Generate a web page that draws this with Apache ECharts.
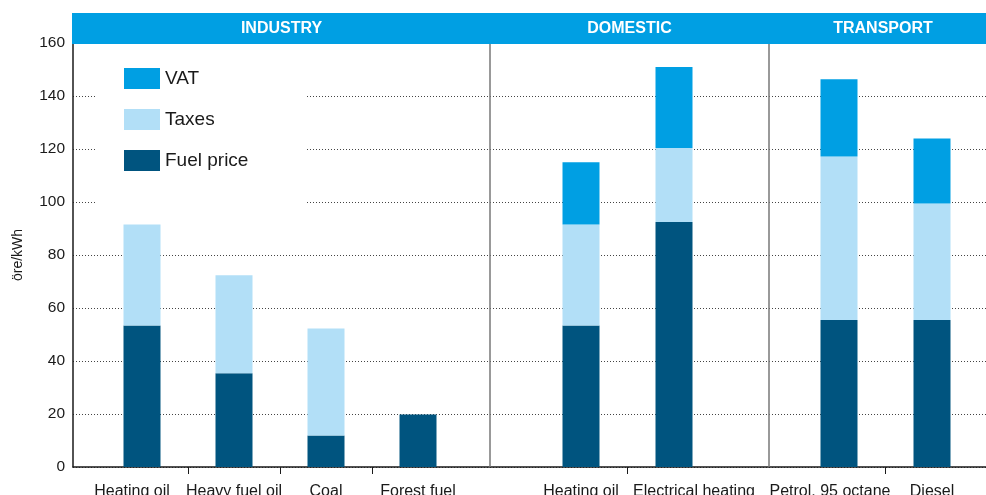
<html>
  <head>
    <meta charset="utf-8" />
    <script src="https://cdn.jsdelivr.net/npm/echarts@6.0.0/dist/echarts.min.js"></script>
    <style>
      body {
        margin: 0;
        background: #fff;
      }

      #main {
        width: 986px;
        height: 495px;
      }
    </style>
  </head>
  <body>
    <div id="main"></div>
    <script>
      const groups = ['INDUSTRY', 'DOMESTIC', 'TRANSPORT'];
      const categories = [
        ['Heating oil', 'Heavy fuel oil', 'Coal', 'Forest fuel'],
        ['Heating oil', 'Electrical heating'],
        ['Petrol, 95 octane', 'Diesel'],
      ];
      const fuelPrice = [[53.4, 35.4, 11.9, 19.8], [53.4, 92.5], [55.5, 55.5]];
      const taxes = [[38.1, 37.0, 40.4, 0], [38.1, 27.9], [61.7, 43.9]];
      const vat = [[0, 0, 0, 0], [23.5, 30.5], [29.1, 24.6]];
      const yTicks = [0, 20, 40, 60, 80, 100, 120, 140, 160];

      const colors = { vat: '#009fe3', taxes: '#b2dff7', fuel: '#00547f' };
      const font = 'Liberation Sans, Arial, sans-serif';

      // pixel layout of each group's bar area (left edge, width)
      const groupBoxes = [
        [119, 322],
        [557.75, 139.5],
        [815.75, 139.5],
      ];
      // the source nudges a few labels sideways (group index, label)
      const labelPadding = {
        '0:Heating oil': [0, 20, 0, 0],
        '1:Electrical heating': [0, 0, 0, 40],
        '2:Petrol, 95 octane': [0, 18, 0, 0],
      };

      // put an empty slot between two categories, the tick goes there
      function spread(arr, blank) {
        return arr.flatMap((v, i) => (i ? [blank, v] : [v]));
      }

      var myChart = echarts.init(document.querySelector('#main'));

      const grid = [{ left: 73, right: 0, top: 43, bottom: 28, outerBoundsMode: 'none' }];
      const xAxis = [
        {
          type: 'value',
          gridIndex: 0,
          min: 0,
          max: 1,
          axisLine: { show: true, lineStyle: { color: '#1a1a1a', width: 1.5 } },
          axisTick: { show: false },
          axisLabel: { show: false },
          splitLine: { show: false },
        },
      ];
      const yAxis = [
        {
          type: 'value',
          gridIndex: 0,
          min: 0,
          max: 160,
          interval: 20,
          name: 'öre/kWh',
          nameLocation: 'middle',
          nameGap: 48,
          nameTextStyle: { fontFamily: font, fontSize: 14, color: '#1a1a1a' },
          axisLine: { show: true, lineStyle: { color: '#1a1a1a', width: 1.5 } },
          axisTick: { show: false },
          axisLabel: {
            margin: 8,
            fontFamily: font,
            fontSize: 15.5,
            color: '#1a1a1a',
            formatter: (v) => (yTicks.includes(v) ? String(v) : ''),
          },
          splitLine: {
            show: true,
            lineStyle: { color: '#444', type: [1, 2], width: 1 },
          },
        },
      ];
      const series = [];

      groups.forEach((g, gi) => {
        const [left, width] = groupBoxes[gi];
        grid.push({ left: left, width: width, top: 43, bottom: 28, outerBoundsMode: 'none' });
        const cats = spread(categories[gi], '').map((c) => {
          const pad = labelPadding[gi + ':' + c];
          return pad ? { value: c, textStyle: { padding: pad } } : c;
        });
        xAxis.push({
          type: 'category',
          gridIndex: gi + 1,
          data: cats,
          axisLine: { show: false },
          axisTick: {
            show: true,
            alignWithLabel: true,
            interval: (i) => i % 2 === 1,
            length: 7,
            lineStyle: { color: '#1a1a1a', width: 1 },
          },
          axisLabel: {
            interval: 0,
            margin: 17,
            fontFamily: font,
            fontSize: 16,
            color: '#1a1a1a',
          },
          splitLine: { show: false },
        });
        yAxis.push({ type: 'value', gridIndex: gi + 1, min: 0, max: 160, show: false });

        const parts = [
          ['Fuel price', fuelPrice[gi], colors.fuel],
          ['Taxes', taxes[gi], colors.taxes],
          ['VAT', vat[gi], colors.vat],
        ];
        parts.forEach(([name, values, color]) => {
          series.push({
            name: name,
            type: 'bar',
            xAxisIndex: gi + 1,
            yAxisIndex: gi + 1,
            stack: g,
            barWidth: 37,
            itemStyle: { color: color },
            data: spread(values, '-'),
          });
        });
      });

      const headerText = (text, x) => ({
        type: 'text',
        z: 11,
        x: x,
        y: 28.5,
        style: { text: text, fill: '#fff', font: 'bold 16px ' + font, align: 'center', verticalAlign: 'middle' },
      });

      myChart.setOption({
        animation: false,
        textStyle: { fontFamily: font },
        grid: grid,
        xAxis: xAxis,
        yAxis: yAxis,
        legend: {
          data: ['VAT', 'Taxes', 'Fuel price'],
          orient: 'vertical',
          left: 97,
          top: 48,
          padding: [20, 58, 35, 27],
          backgroundColor: '#fff',
          icon: 'rect',
          itemWidth: 36,
          itemHeight: 21,
          itemGap: 20,
          textStyle: { fontFamily: font, fontSize: 19, color: '#1a1a1a' },
        },
        graphic: [
          {
            type: 'rect',
            z: 10,
            shape: { x: 72, y: 13, width: 914, height: 31 },
            style: { fill: colors.vat },
          },
          headerText(groups[0], 281.5),
          headerText(groups[1], 629.5),
          headerText(groups[2], 883),
          {
            type: 'line',
            z: 5,
            shape: { x1: 490, y1: 43, x2: 490, y2: 467 },
            style: { stroke: '#777', lineWidth: 1.5 },
          },
          {
            type: 'line',
            z: 5,
            shape: { x1: 769, y1: 43, x2: 769, y2: 467 },
            style: { stroke: '#777', lineWidth: 1.5 },
          },
        ],
        series: series,
      });
    </script>
  </body>
</html>
